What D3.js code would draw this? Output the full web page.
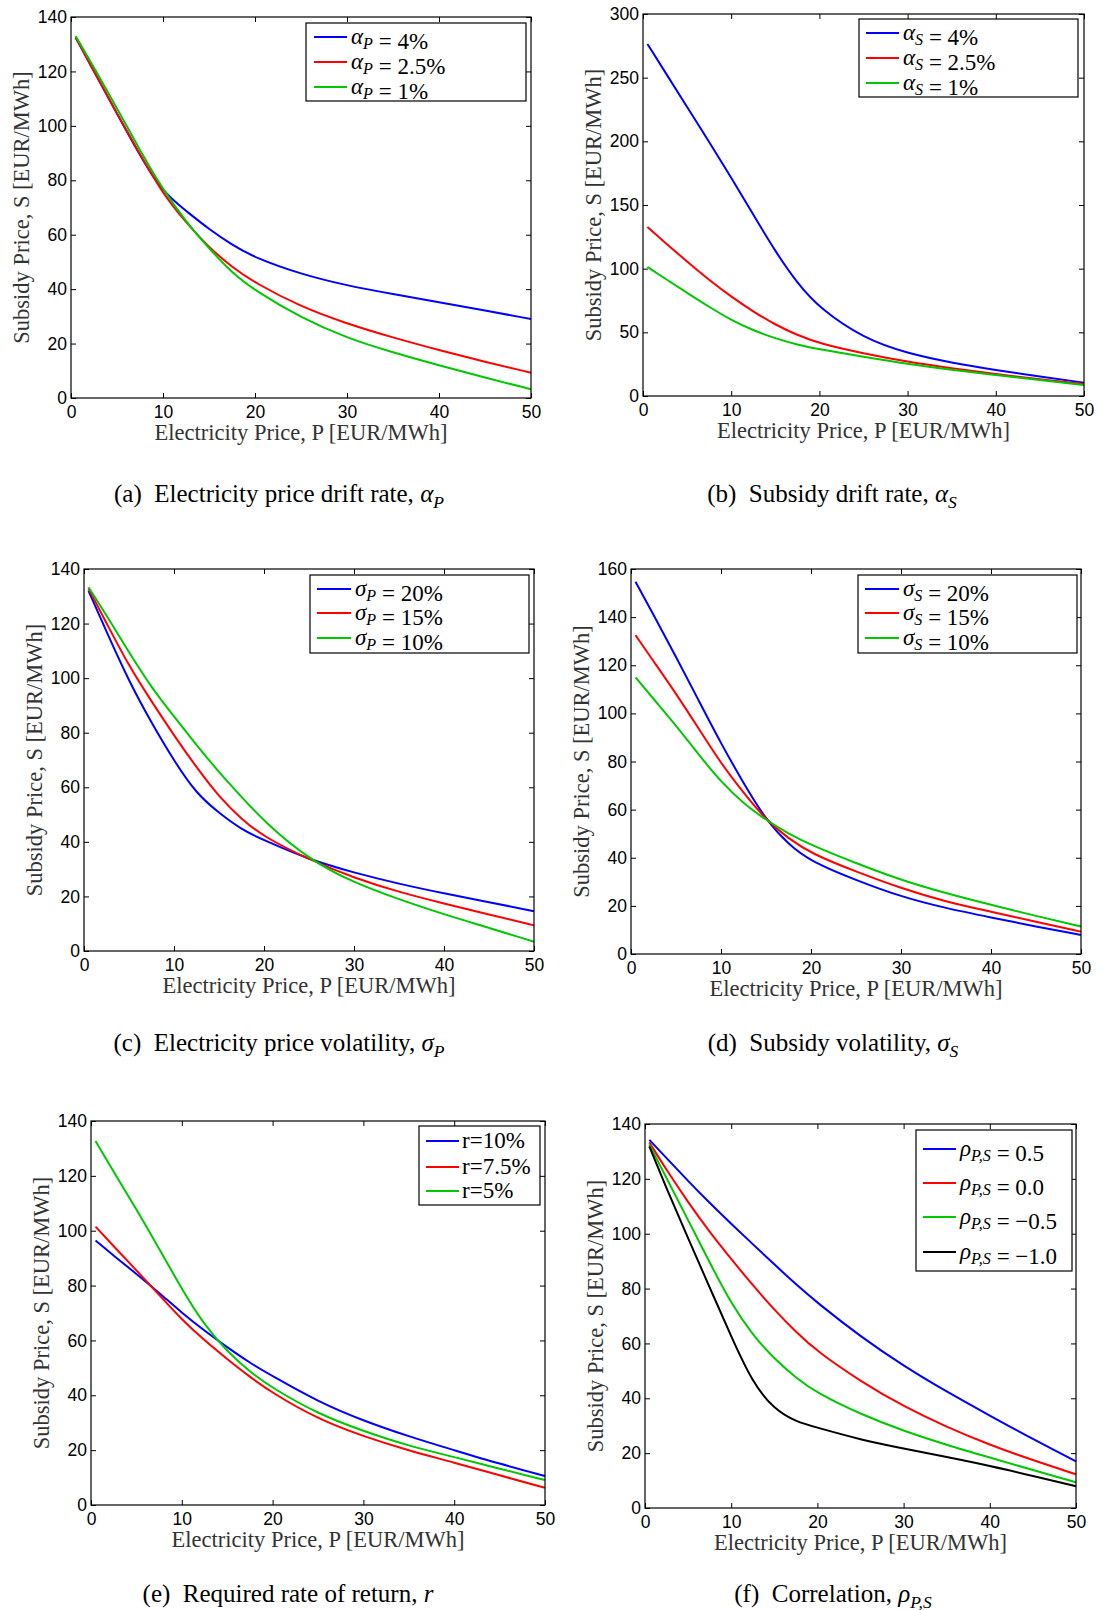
<!DOCTYPE html>
<html>
<head>
<meta charset="utf-8">
<script src="https://cdn.jsdelivr.net/npm/d3@7"></script>
<style>
  body { margin: 0; background: #fff; }
  text { white-space: pre; }
</style>
</head>
<body>
<svg id="fig" width="1102" height="1610"></svg>
<script>
// electricity price grid (EUR/MWh) shared by every curve
const priceGrid = [0.5, 2.5, 5, 7.5, 10, 12.5, 15, 17.5, 20, 25, 30, 35, 40, 45, 50];
const xTicks = [0, 10, 20, 30, 40, 50];

// (a) electricity price drift rate
const alphaP4  = [132.5, 120, 104.5, 89, 75.5, 68.8, 62, 56.3, 51.5, 45.5, 41.3, 38.2, 35.2, 32.2, 29];
const alphaP25 = [132.5, 120, 104.5, 89.5, 75, 64.5, 55.3, 48.1, 42.3, 33.5, 27.3, 22.2, 17.6, 13.3, 9.3];
const alphaP1  = [133, 121.5, 106.5, 91, 76.5, 64.8, 55, 46, 39.5, 29.5, 22, 16.7, 12, 7.5, 3.2];

// (b) subsidy drift rate
const alphaS4  = [276.5, 254.5, 227, 199.5, 171.5, 142.5, 113.5, 88.5, 69, 45.2, 33.4, 26.1, 20.4, 15.2, 10.5];
const alphaS25 = [132.7, 120.5, 105.5, 91, 78, 66.3, 56, 47.8, 41.3, 33.4, 26.9, 21.7, 17.2, 13.1, 9.4];
const alphaS1  = [101.4, 92.2, 81, 70, 59.6, 51.5, 45.2, 40.3, 36.6, 30.8, 25.1, 20.4, 16.5, 12.5, 8.6];

// (c) electricity price volatility
const sigmaP20 = [132, 117, 98.8, 83.6, 69.7, 57.6, 50.6, 44.5, 40.6, 33.5, 28.7, 24.6, 21.1, 17.9, 14.6];
const sigmaP15 = [132.8, 120.2, 104.4, 91.5, 79, 67.3, 56.5, 48.3, 41.8, 33.5, 26.8, 21.6, 17.4, 13.4, 9.4];
const sigmaP10 = [133.3, 123, 109.5, 96.5, 86, 75.5, 65.5, 56.5, 47.5, 33.5, 25, 18.9, 13.4, 8.5, 3.4];

// (d) subsidy volatility
const sigmaS20 = [154.7, 141, 123.5, 105.5, 87.5, 71, 55.7, 45.5, 38.4, 30.7, 23.8, 19, 15.2, 11.4, 7.9];
const sigmaS15 = [132.5, 121.7, 108.3, 93.8, 79.2, 67, 55.7, 48, 41.8, 34.2, 27.3, 21.7, 17.6, 13.4, 9.3];
const sigmaS10 = [115, 106, 95, 83, 71.5, 62.5, 55.7, 50, 45.3, 37.7, 30.7, 25.2, 20.4, 15.8, 11.4];

// (e) required rate of return
const rate10 = [96.4, 90.9, 84.3, 77.4, 70.1, 63.5, 57.5, 51.8, 47, 37.7, 30.7, 25, 20, 15, 10.6];
const rate75 = [101.5, 94.3, 85.6, 76.6, 67.6, 60, 53.2, 46.7, 40.8, 31.3, 25, 19.8, 15.5, 10.8, 6.3];
const rate5  = [132.7, 121.5, 107.8, 93.5, 78.7, 65.5, 56, 48.5, 42.6, 33.2, 26.9, 21.5, 17.5, 13.2, 9.1];

// (f) correlation
const rhoPos05 = [134.2, 127.6, 119.2, 111.2, 103.6, 96.2, 88.8, 81.6, 74.8, 62.5, 51.8, 42.4, 33.7, 25.1, 17];
const rhoZero  = [133.3, 123.2, 111.5, 100.6, 90.8, 81.2, 72.3, 64.2, 57, 46.2, 37, 29.5, 23, 17.4, 12.3];
const rhoNeg05 = [132.5, 120.3, 105, 89.5, 74.5, 63, 54.4, 47.5, 41.8, 34.2, 28.1, 23, 18.4, 13.8, 9.4];
const rhoNeg10 = [131.8, 116.5, 98.3, 80.5, 62.5, 45.5, 36, 31.5, 29.3, 24.9, 21.7, 18.6, 15.4, 11.7, 7.9];

const colors = { blue: '#0000ff', red: '#ff0000', green: '#00c800', black: '#000000' };

// panel layout: plot box [left, top, right, bottom], legend box, caption position
const panels = [
  { box: [71, 17, 531, 398], yMax: 140, yStep: 20,
    legend: [306, 23, 526, 101], rows: [37, 62, 87], lineX: [314, 347], textX: 351,
    series: [
      { values: alphaP4, color: 'blue', label: { sym: 'α', sub: 'P', rest: ' = 4%' } },
      { values: alphaP25, color: 'red', label: { sym: 'α', sub: 'P', rest: ' = 2.5%' } },
      { values: alphaP1, color: 'green', label: { sym: 'α', sub: 'P', rest: ' = 1%' } }
    ],
    caption: { pre: '(a)\u2002Electricity price drift rate, ', sym: 'α', sub: 'P' }, capX: 279, capY: 494 },
  { box: [643, 14, 1084, 396], yMax: 300, yStep: 50,
    legend: [859, 19, 1078, 97], rows: [33, 58, 83], lineX: [866, 899], textX: 903,
    series: [
      { values: alphaS4, color: 'blue', label: { sym: 'α', sub: 'S', rest: ' = 4%' } },
      { values: alphaS25, color: 'red', label: { sym: 'α', sub: 'S', rest: ' = 2.5%' } },
      { values: alphaS1, color: 'green', label: { sym: 'α', sub: 'S', rest: ' = 1%' } }
    ],
    caption: { pre: '(b)\u2002Subsidy drift rate, ', sym: 'α', sub: 'S' }, capX: 832, capY: 494 },
  { box: [84, 569, 534, 951], yMax: 140, yStep: 20,
    legend: [310, 575, 529, 653], rows: [589, 613, 638], lineX: [317, 351], textX: 355,
    series: [
      { values: sigmaP20, color: 'blue', label: { sym: 'σ', sub: 'P', rest: ' = 20%' } },
      { values: sigmaP15, color: 'red', label: { sym: 'σ', sub: 'P', rest: ' = 15%' } },
      { values: sigmaP10, color: 'green', label: { sym: 'σ', sub: 'P', rest: ' = 10%' } }
    ],
    caption: { pre: '(c)\u2002Electricity price volatility, ', sym: 'σ', sub: 'P' }, capX: 279, capY: 1043 },
  { box: [631, 569, 1081, 954], yMax: 160, yStep: 20,
    legend: [858, 575, 1077, 653], rows: [589, 613, 638], lineX: [865, 899], textX: 903,
    series: [
      { values: sigmaS20, color: 'blue', label: { sym: 'σ', sub: 'S', rest: ' = 20%' } },
      { values: sigmaS15, color: 'red', label: { sym: 'σ', sub: 'S', rest: ' = 15%' } },
      { values: sigmaS10, color: 'green', label: { sym: 'σ', sub: 'S', rest: ' = 10%' } }
    ],
    caption: { pre: '(d)\u2002Subsidy volatility, ', sym: 'σ', sub: 'S' }, capX: 833, capY: 1043 },
  { box: [91, 1121, 545, 1505], yMax: 140, yStep: 20,
    legend: [419, 1126, 540, 1205], rows: [1141, 1167, 1191], lineX: [426, 459], textX: 462,
    series: [
      { values: rate10, color: 'blue', label: { rest: 'r=10%' } },
      { values: rate75, color: 'red', label: { rest: 'r=7.5%' } },
      { values: rate5, color: 'green', label: { rest: 'r=5%' } }
    ],
    caption: { pre: '(e)\u2002Required rate of return, ', sym: 'r' }, capX: 288, capY: 1594 },
  { box: [645, 1124, 1076, 1508], yMax: 140, yStep: 20,
    legend: [916, 1130, 1072, 1271], rows: [1149, 1183, 1217, 1252], lineX: [923, 956], textX: 960,
    series: [
      { values: rhoPos05, color: 'blue', label: { sym: 'ρ', sub: 'P,S', rest: ' = 0.5' } },
      { values: rhoZero, color: 'red', label: { sym: 'ρ', sub: 'P,S', rest: ' = 0.0' } },
      { values: rhoNeg05, color: 'green', label: { sym: 'ρ', sub: 'P,S', rest: ' = \u22120.5' } },
      { values: rhoNeg10, color: 'black', label: { sym: 'ρ', sub: 'P,S', rest: ' = \u22121.0' } }
    ],
    caption: { pre: '(f)\u2002Correlation, ', sym: 'ρ', sub: 'P,S' }, capX: 833, capY: 1594 }
];

const svg = d3.select('#fig');
const serif = '"Liberation Serif", "Times New Roman", serif';
const sans = '"Liberation Sans", Arial, sans-serif';

// writes "prefix + italic symbol + italic subscript + rest" into a text node
const mathText = (text, lab, size) => {
  if (lab.pre) text.append('tspan').text(lab.pre);
  if (lab.sym) text.append('tspan').attr('font-style', 'italic').text(lab.sym);
  if (lab.sub) {
    text.append('tspan').attr('font-style', 'italic').attr('font-size', size * 0.7)
      .attr('dy', size * 0.22).text(lab.sub);
    text.append('tspan').attr('dy', -size * 0.22).text('');
  }
  if (lab.rest) text.append('tspan').text(lab.rest);
};

const drawPanel = (p) => {
  const [l, t, r, b] = p.box;
  const x = d3.scaleLinear().domain([0, 50]).range([l, r]);
  const y = d3.scaleLinear().domain([0, p.yMax]).range([b, t]);
  const yTicks = d3.range(0, p.yMax + 1, p.yStep);
  const g = svg.append('g');

  const styleAxis = (sel) => {
    sel.select('.domain').remove();
    sel.selectAll('.tick line').attr('stroke', '#000').attr('stroke-width', 1);
    sel.attr('font-family', sans).attr('font-size', 17.5);
    sel.selectAll('.tick text').attr('fill', '#000');
  };

  g.append('g').attr('transform', `translate(0,${b})`)
    .call(d3.axisBottom(x).tickValues(xTicks).tickSizeInner(-5).tickSizeOuter(0).tickPadding(8))
    .call(styleAxis);
  g.append('g').attr('transform', `translate(0,${t})`)
    .call(d3.axisTop(x).tickValues(xTicks).tickSizeInner(-5).tickSizeOuter(0).tickFormat(''))
    .call(styleAxis);
  g.append('g').attr('transform', `translate(${l},0)`)
    .call(d3.axisLeft(y).tickValues(yTicks).tickSizeInner(-5).tickSizeOuter(0).tickPadding(4))
    .call(styleAxis);
  g.append('g').attr('transform', `translate(${r},0)`)
    .call(d3.axisRight(y).tickValues(yTicks).tickSizeInner(-5).tickSizeOuter(0).tickFormat(''))
    .call(styleAxis);

  const line = d3.line()
    .x((d) => x(d[0]))
    .y((d) => y(d[1]))
    .curve(d3.curveBasis);

  p.series.forEach((s) => {
    g.append('path')
      .datum(priceGrid.map((px, i) => [px, s.values[i]]))
      .attr('fill', 'none')
      .attr('stroke', colors[s.color])
      .attr('stroke-width', 2)
      .attr('stroke-linejoin', 'round')
      .attr('d', line);
  });

  g.append('rect')
    .attr('x', l).attr('y', t).attr('width', r - l).attr('height', b - t)
    .attr('fill', 'none').attr('stroke', '#000').attr('stroke-width', 1.2);

  // legend
  const [ll, lt, lr, lb] = p.legend;
  g.append('rect')
    .attr('x', ll).attr('y', lt).attr('width', lr - ll).attr('height', lb - lt)
    .attr('fill', '#fff').attr('stroke', '#000').attr('stroke-width', 1.2);
  p.series.forEach((s, i) => {
    const ry = p.rows[i];
    g.append('line')
      .attr('x1', p.lineX[0]).attr('x2', p.lineX[1]).attr('y1', ry).attr('y2', ry)
      .attr('stroke', colors[s.color]).attr('stroke-width', 2);
    const txt = g.append('text')
      .attr('x', p.textX).attr('y', ry + 7)
      .attr('font-family', serif).attr('font-size', 23).attr('fill', '#000');
    mathText(txt, s.label, 23);
  });

  // axis titles
  g.append('text')
    .attr('x', (l + r) / 2).attr('y', b + 42)
    .attr('text-anchor', 'middle')
    .attr('font-family', serif).attr('font-size', 22.5).attr('fill', '#333')
    .text('Electricity Price, P [EUR/MWh]');
  g.append('text')
    .attr('transform', `translate(${l - 50},${(t + b) / 2}) rotate(-90)`)
    .attr('text-anchor', 'middle').attr('dy', '0.35em')
    .attr('font-family', serif).attr('font-size', 22.5).attr('fill', '#333')
    .text('Subsidy Price, S [EUR/MWh]');

  // caption
  const cap = g.append('text')
    .attr('x', p.capX).attr('y', p.capY + 8)
    .attr('text-anchor', 'middle')
    .attr('font-family', serif).attr('font-size', 25).attr('fill', '#000');
  mathText(cap, p.caption, 25);
};

panels.forEach(drawPanel);
</script>
</body>
</html>
